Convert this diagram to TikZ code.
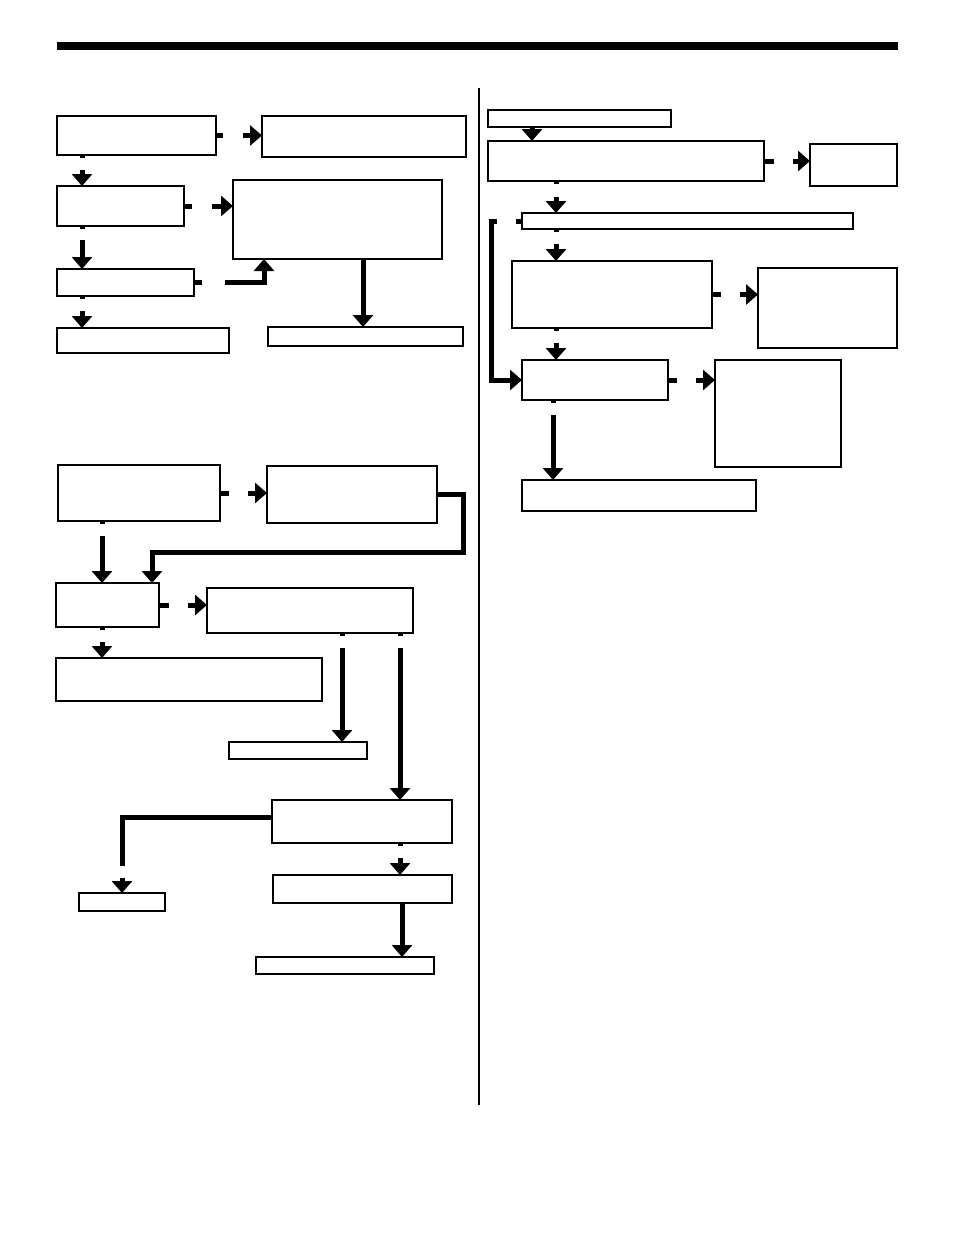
\documentclass[tikz,border=0pt]{standalone}
\usepackage{xcolor}
\usepackage{tikz}
\usetikzlibrary{positioning,arrows.meta,calc}
\definecolor{ink}{RGB}{0,0,0}
\tikzset{
    box/.style={draw=ink, fill=white, line width=1.3pt, inner sep=0pt, outer sep=0pt, anchor=north west},
    stub/.style={draw=ink, line width=5pt},
    arrow/.style={-{Triangle[length=12pt,width=20pt]}, draw=ink, line width=5pt},
    rule/.style={draw=ink, line width=1.4pt}
}
\begin{document}
\begin{tikzpicture}[x=1pt,y=-1pt]
\useasboundingbox (0,0) rectangle (954,1235);
\fill[ink] (57,42) rectangle (898,50);
\draw[rule] (479,88) -- (479,1105);
% left column, upper chart
\node[box, minimum width=159pt, minimum height=39pt] (a1) at (57,116) {};
\node[box, minimum width=204pt, minimum height=41pt] (a2) at (262,116) {};
\node[box, minimum width=127pt, minimum height=40pt] (b1) at (57,186) {};
\node[box, minimum width=209pt, minimum height=79pt] (b2) at (233,180) {};
\node[box, minimum width=137pt, minimum height=27pt] (c1) at (57,269) {};
\node[box, minimum width=172pt, minimum height=25pt] (d1) at (57,328) {};
\node[box, minimum width=195pt, minimum height=19pt] (d2) at (268,327) {};
\draw[stub] (a1.east) -- ++(7,0);
\draw[arrow] ($(a1.east)+(27,0)$) -- (a2.west |- a1.east);
\draw[stub] ($(a1.south west)+(25,0)$) -- ++(0,3);
\draw[arrow] ($(a1.south west)+(25,15)$) -- ($(b1.north west)+(25,0)$);
\draw[stub] (b1.east) -- ++(8,0);
\draw[arrow] ($(b1.east)+(28,0)$) -- (b2.west |- b1.east);
\draw[stub] ($(b1.south west)+(25,0)$) -- ++(0,3);
\draw[arrow] ($(b1.south west)+(25,14)$) -- ($(c1.north west)+(25,0)$);
\draw[stub] (c1.east) -- ++(8,0);
\draw[arrow] ($(c1.east)+(31,0)$) -| ($(b2.south west)+(31,0)$);
\draw[stub] ($(c1.south west)+(25,0)$) -- ++(0,3);
\draw[arrow] ($(c1.south west)+(25,15)$) -- ($(d1.north west)+(25,0)$);
\draw[arrow] ($(b2.south west)+(130,0)$) -- ($(d2.north west)+(95,0)$);
% right column
\node[box, minimum width=183pt, minimum height=17pt] (r0) at (488,110) {};
\node[box, minimum width=276pt, minimum height=40pt] (r1) at (488,141) {};
\node[box, minimum width=87pt, minimum height=42pt] (r1b) at (810,144) {};
\node[box, minimum width=331pt, minimum height=16pt] (r2) at (522,213) {};
\node[box, minimum width=200pt, minimum height=67pt] (r3) at (512,261) {};
\node[box, minimum width=139pt, minimum height=80pt] (r3b) at (758,268) {};
\node[box, minimum width=146pt, minimum height=40pt] (r4) at (522,360) {};
\node[box, minimum width=126pt, minimum height=107pt] (r4b) at (715,360) {};
\node[box, minimum width=234pt, minimum height=31pt] (r5) at (522,480) {};
\draw[arrow] ($(r0.south west)+(44,0)$) -- ($(r1.north west)+(44,0)$);
\draw[stub] (r1.east) -- ++(10,0);
\draw[arrow] ($(r1.east)+(29,0)$) -- (r1b.west |- r1.east);
\draw[stub] ($(r1.south west)+(68,0)$) -- ++(0,3);
\draw[arrow] ($(r1.south west)+(68,16)$) -- ($(r2.north west)+(34,0)$);
\draw[stub] (r2.west) -- ++(-6,0);
\draw[arrow] ($(r2.west)+(-25,0)$) -| ($(r4.west)+(-31,0)$) -- (r4.west);
\draw[stub] ($(r2.south west)+(34,0)$) -- ++(0,3);
\draw[arrow] ($(r2.south west)+(34,15)$) -- ($(r3.north west)+(44,0)$);
\draw[stub] (r3.east) -- ++(9,0);
\draw[arrow] ($(r3.east)+(28,0)$) -- (r3b.west |- r3.east);
\draw[stub] ($(r3.south west)+(44,0)$) -- ++(0,3);
\draw[arrow] ($(r3.south west)+(44,15)$) -- ($(r4.north west)+(34,0)$);
\draw[stub] (r4.east) -- ++(9,0);
\draw[arrow] ($(r4.east)+(28,0)$) -- (r4b.west |- r4.east);
\draw[stub] ($(r4.south west)+(31,0)$) -- ++(0,3);
\draw[arrow] ($(r4.south west)+(31,15)$) -- ($(r5.north west)+(31,0)$);
% left column, lower chart
\node[box, minimum width=162pt, minimum height=56pt] (e1) at (58,465) {};
\node[box, minimum width=170pt, minimum height=57pt] (e2) at (267,466) {};
\node[box, minimum width=103pt, minimum height=44pt] (f1) at (56,583) {};
\node[box, minimum width=206pt, minimum height=45pt] (f2) at (207,588) {};
\node[box, minimum width=266pt, minimum height=43pt] (g1) at (56,658) {};
\node[box, minimum width=138pt, minimum height=17pt] (h1) at (229,742) {};
\node[box, minimum width=180pt, minimum height=43pt] (i1) at (272,800) {};
\node[box, minimum width=86pt, minimum height=18pt, line width=2pt] (j1) at (79,893) {};
\node[box, minimum width=179pt, minimum height=28pt] (k1) at (273,875) {};
\node[box, minimum width=178pt, minimum height=17pt, line width=2pt] (l1) at (256,957) {};
\draw[stub] (e1.east) -- ++(9,0);
\draw[arrow] ($(e1.east)+(28,0)$) -- (e2.west |- e1.east);
\draw[arrow] (e2.east) -| ($(e2.east)+(26,58)$) -| ($(f1.north west)+(96,0)$);
\draw[stub] ($(e1.south west)+(44,0)$) -- ++(0,3);
\draw[arrow] ($(e1.south west)+(44,15)$) -- ($(f1.north west)+(46,0)$);
\draw[stub] (f1.east) -- ++(10,0);
\draw[arrow] ($(f1.east)+(29,0)$) -- (f2.west |- f1.east);
\draw[stub] ($(f1.south west)+(46,0)$) -- ++(0,3);
\draw[arrow] ($(f1.south west)+(46,15)$) -- ($(g1.north west)+(46,0)$);
\draw[stub] ($(f2.south west)+(135,0)$) -- ++(0,3);
\draw[arrow] ($(f2.south west)+(135,15)$) -- ($(h1.north west)+(113,0)$);
\draw[stub] ($(f2.south west)+(193,0)$) -- ++(0,3);
\draw[arrow] ($(f2.south west)+(193,15)$) -- ($(i1.north west)+(128,0)$);
\draw[stub] ($(i1.north west)+(0,17)$) -| ($(j1.north)+(0,-27)$);
\draw[arrow] ($(j1.north)+(0,-15)$) -- (j1.north);
\draw[stub] ($(i1.south west)+(128,0)$) -- ++(0,3);
\draw[arrow] ($(i1.south west)+(128,15)$) -- ($(k1.north west)+(127,0)$);
\draw[arrow] ($(k1.south west)+(129,0)$) -- ($(l1.north west)+(146,0)$);
\end{tikzpicture}
\end{document}
